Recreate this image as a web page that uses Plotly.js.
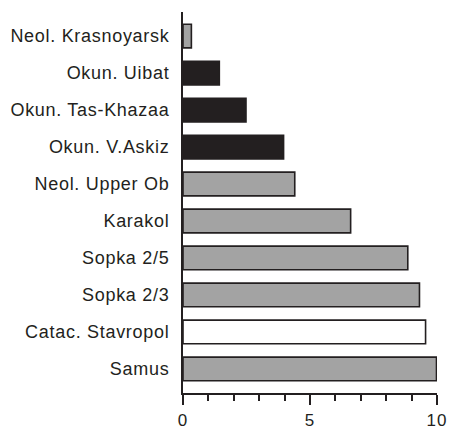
<!DOCTYPE html>
<html>
<head>
<meta charset="utf-8">
<script src="https://cdn.plot.ly/plotly-3.0.1.min.js"></script>
<style>
html, body { margin: 0; padding: 0; background: #fff; }
#chart { width: 449px; height: 429px; }
.ytick text { letter-spacing: 0.7px; }
.xtick text { letter-spacing: 1px; }
</style>
</head>
<body>
<div id="chart"></div>
<script>
// categories listed top to bottom
const sites = ["Neol. Krasnoyarsk", "Okun. Uibat", "Okun. Tas-Khazaa", "Okun. V.Askiz",
  "Neol. Upper Ob", "Karakol", "Sopka 2/5", "Sopka 2/3", "Catac. Stavropol", "Samus"];
const values = [0.33, 1.43, 2.48, 3.96, 4.40, 6.60, 8.85, 9.31, 9.55, 9.98];
const groups = ["grey", "black", "black", "black", "grey", "grey", "grey", "grey", "white", "grey"];
const xTicks = [0, 5, 10];

const fillFor = { grey: "#a3a3a3", black: "#231f20", white: "#ffffff" };
const ink = "#231f20";

const trace = {
  type: "bar",
  orientation: "h",
  y: sites,
  x: values,
  marker: {
    color: groups.map(g => fillFor[g]),
    line: { color: ink, width: 1.6 }
  },
  hoverinfo: "none"
};

const layout = {
  width: 449,
  height: 429,
  margin: { l: 183, r: 12, t: 12, b: 36 },
  paper_bgcolor: "#ffffff",
  plot_bgcolor: "#ffffff",
  showlegend: false,
  bargap: 0.36,
  font: { family: "Liberation Sans, Arial, sans-serif", color: ink },
  xaxis: {
    range: [0, 10],
    tickmode: "array",
    tickvals: xTicks,
    ticktext: xTicks.map(String),
    ticks: "outside",
    ticklen: 10,
    tickwidth: 2,
    tickcolor: ink,
    minor: { dtick: 1, tick0: 0, ticks: "outside", ticklen: 6, tickwidth: 2, tickcolor: ink },
    showline: true,
    linecolor: ink,
    linewidth: 2,
    showgrid: false,
    zeroline: false,
    ticklabelstandoff: 1,
    tickfont: { size: 17, color: ink },
    fixedrange: true
  },
  yaxis: {
    type: "category",
    range: [9.65, -0.65],
    showline: true,
    linecolor: ink,
    linewidth: 2,
    ticks: "",
    showgrid: false,
    zeroline: false,
    ticklabelstandoff: 8,
    tickfont: { size: 18, color: ink },
    fixedrange: true
  }
};

Plotly.newPlot("chart", [trace], layout, { displayModeBar: false, staticPlot: true });
</script>
</body>
</html>
